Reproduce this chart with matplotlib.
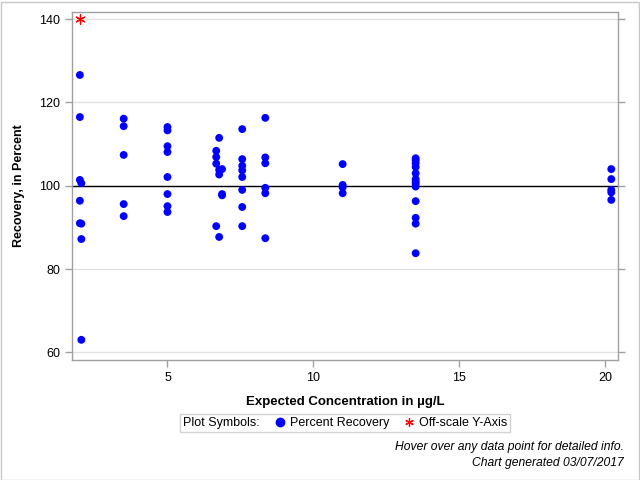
import matplotlib
matplotlib.use("Agg")
import matplotlib.pyplot as plt
from matplotlib.lines import Line2D
from matplotlib.patches import Rectangle

plt.rcParams['font.family'] = ['Liberation Sans', 'DejaVu Sans']

# Expected concentration (ug/L) and percent recovery
conc = [2.0, 2.0, 2.0, 2.05, 2.0, 2.0, 2.05, 2.05, 2.05,
        3.5, 3.5, 3.5, 3.5, 3.5,
        5.0, 5.0, 5.0, 5.0, 5.0, 5.0, 5.0, 5.0,
        6.77, 6.67, 6.67, 6.67, 6.77, 6.87, 6.77, 6.87, 6.87, 6.67, 6.77,
        7.56, 7.56, 7.56, 7.56, 7.56, 7.56, 7.56, 7.56,
        8.35, 8.35, 8.35, 8.35, 8.35, 8.35,
        11.0, 11.0, 11.0, 11.0,
        13.5, 13.5, 13.5, 13.5, 13.5, 13.5, 13.5, 13.5, 13.5, 13.5, 13.5, 13.5, 13.5,
        20.2, 20.2, 20.2, 20.2, 20.2]
recovery = [126.6, 116.5, 101.4, 100.6, 96.4, 91.0, 90.9, 87.2, 63.0,
            116.1, 114.3, 107.4, 95.6, 92.7,
            114.1, 113.3, 109.5, 108.1, 102.1, 98.0, 95.1, 93.7,
            111.5, 108.4, 106.9, 105.3, 103.8, 104.0, 102.7, 98.0, 97.7, 90.3, 87.7,
            113.6, 106.4, 104.8, 103.7, 102.1, 99.0, 94.9, 90.3,
            116.3, 106.8, 105.4, 99.5, 98.2, 87.4,
            105.2, 100.2, 99.6, 98.2,
            106.6, 106.1, 105.4, 104.5, 103.0, 101.6, 101.0, 100.5, 99.8, 96.3, 92.3, 90.9, 83.8,
            104.0, 101.6, 99.0, 98.4, 96.6]

# Off-scale point (plotted at top of axis)
off_conc = [2.0]
off_rec = [140]

x_ticks = [5, 10, 15, 20]
y_ticks = [60, 80, 100, 120, 140]

fig = plt.figure(figsize=(6.4, 4.8), dpi=100)
ax = fig.add_axes([72/640, 1-360/480, (618-72)/640, (360-11.7)/480])

gray = '#a0a0a0'
ax.set_xlim(1.73, 20.43)
ax.set_ylim(58.15, 141.8)
ax.set_yticks(y_ticks)
ax.set_xticks(x_ticks)
for y in y_ticks:
    ax.axhline(y, color='#e2e2e2', lw=1, zorder=0)
ax.axhline(100, color='black', lw=1, zorder=1)

ax.scatter(conc, recovery, s=32, color='#0000ff', edgecolors='none', zorder=3)
ax.scatter(off_conc, off_rec, s=45, marker=(6, 2, 0), color='#ff0000', linewidths=0.9, zorder=3)

for sp in ax.spines.values():
    sp.set_color(gray)
    sp.set_linewidth(1)
ax.tick_params(axis='both', colors=gray, labelcolor='black', labelsize=9, length=5, width=1,
               direction='out')
ax.tick_params(axis='y', right=True, labelright=False)

ax.set_xlabel('Expected Concentration in µg/L', fontsize=9.5, fontweight='bold', labelpad=9)
ax.set_ylabel('Recovery, in Percent', fontsize=9, fontweight='bold', labelpad=10)

handles = [Line2D([], [], linestyle='none', marker=None),
           Line2D([], [], linestyle='none', marker='o', color='#0000ff', markersize=6),
           Line2D([], [], linestyle='none', marker=(6, 2, 0), color='#ff0000', markersize=6,
                  markeredgewidth=0.9)]
labels = ['Plot Symbols:', 'Percent Recovery', 'Off-scale Y-Axis']
leg = fig.legend(handles, labels, ncol=3, loc='center', bbox_to_anchor=(345/640, 1-423/480),
                 fontsize=9, frameon=True, fancybox=False, edgecolor='#c8c8c8',
                 handlelength=1.0, handletextpad=0.3, columnspacing=1.1,
                 borderpad=0.25, borderaxespad=0)
leg.get_frame().set_linewidth(1)
try:
    col0 = leg._legend_handle_box.get_children()[0]
    row0 = col0.get_children()[0]
    da = row0.get_children()[0]
    da.width = 0
    row0.sep = 0
except Exception:
    pass

fig.text(624/640, 1-447/480, 'Hover over any data point for detailed info.', ha='right',
         va='center', style='italic', fontsize=8.7)
fig.text(624/640, 1-463/480, 'Chart generated 03/07/2017', ha='right',
         va='center', style='italic', fontsize=8.7)

fig.patches.append(Rectangle((0.5/640, 0.5/480), 638/640, 478/480, transform=fig.transFigure,
                             fill=False, edgecolor='#c8c8c8', lw=1))

fig.savefig('out.png', dpi=100)
